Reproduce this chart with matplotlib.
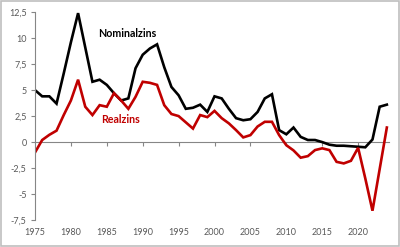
import matplotlib
matplotlib.use("Agg")
import matplotlib.pyplot as plt
from matplotlib.patches import Rectangle
from matplotlib.ticker import FuncFormatter

years = list(range(1975, 2025))
nominal = [5.0, 4.4, 4.4, 3.7, 6.6, 9.6, 12.4, 9.1, 5.8, 6.0,
           5.5, 4.7, 4.0, 4.2, 7.1, 8.4, 9.0, 9.4, 7.2, 5.3,
           4.5, 3.2, 3.3, 3.6, 2.9, 4.4, 4.2, 3.2, 2.3, 2.1,
           2.2, 2.9, 4.2, 4.6, 1.15, 0.75, 1.4, 0.5, 0.2, 0.2,
           0.0, -0.25, -0.35, -0.35, -0.4, -0.45, -0.5, 0.25, 3.4, 3.6]
real = [-1.0, 0.2, 0.7, 1.1, 2.6, 4.0, 6.0, 3.4, 2.6, 3.55,
        3.4, 4.7, 4.0, 3.2, 4.35, 5.8, 5.7, 5.5, 3.55, 2.7,
        2.5, 1.9, 1.3, 2.6, 2.4, 3.0, 2.3, 1.8, 1.15, 0.45,
        0.67, 1.5, 1.95, 1.95, 0.67, -0.3, -0.8, -1.5, -1.35, -0.77,
        -0.6, -0.77, -1.9, -2.05, -1.8, -0.55, -3.5, -6.6, -2.6, 1.4]
x_ticks = [1975, 1980, 1985, 1990, 1995, 2000, 2005, 2010, 2015, 2020]
y_ticks = [-7.5, -5, -2.5, 0, 2.5, 5, 7.5, 10, 12.5]

red = "#c00000"
grey_txt = "#595959"
axis_col = "#868686"

fig = plt.figure(figsize=(4, 2.47), dpi=100)
ax = fig.add_axes([0.0875, 0.109, 0.885, 0.842])

ax.plot(years, nominal, color="black", lw=1.9, solid_joinstyle="miter")
ax.plot(years, real, color=red, lw=1.9, solid_joinstyle="miter")

ax.set_xlim(1975, 2024.3)
ax.set_ylim(-7.5, 12.5)

for s in ["top", "right", "bottom"]:
    ax.spines[s].set_visible(False)
ax.spines["left"].set_color(axis_col)
ax.spines["left"].set_linewidth(0.8)

ax.set_yticks(y_ticks)
ax.yaxis.set_major_formatter(FuncFormatter(lambda v, p: ("%g" % v).replace(".", ",")))
ax.tick_params(axis="y", direction="out", length=3, width=0.8, color=axis_col,
               labelsize=6.5, labelcolor=grey_txt, pad=3)

ax.set_xticks(x_ticks)
ax.tick_params(axis="x", length=0, labelsize=6.5, labelcolor=grey_txt, pad=6)

# zero line with tick marks
sec = ax.secondary_xaxis(0.375)
sec.set_xticks(x_ticks[1:])
sec.set_xticklabels([])
sec.spines["bottom"].set_color(axis_col)
sec.spines["bottom"].set_linewidth(0.8)
sec.tick_params(axis="x", direction="out", length=3, width=0.8, color=axis_col)

for lbl in ax.get_xticklabels() + ax.get_yticklabels():
    lbl.set_family("Lato")

ax.text(1987.9, 10.4, "Nominalzins", color="black", fontsize=7.7,
        fontweight="bold", family="Lato", ha="center", va="center")
ax.text(1986.9, 2.2, "Realzins", color=red, fontsize=7.7,
        fontweight="bold", family="Lato", ha="center", va="center")

fig.patches.append(Rectangle((0.003, 0.004), 0.994, 0.99, transform=fig.transFigure,
                             fill=False, edgecolor="#bfbfbf", lw=1.2))

fig.savefig("out.png", dpi=100)
